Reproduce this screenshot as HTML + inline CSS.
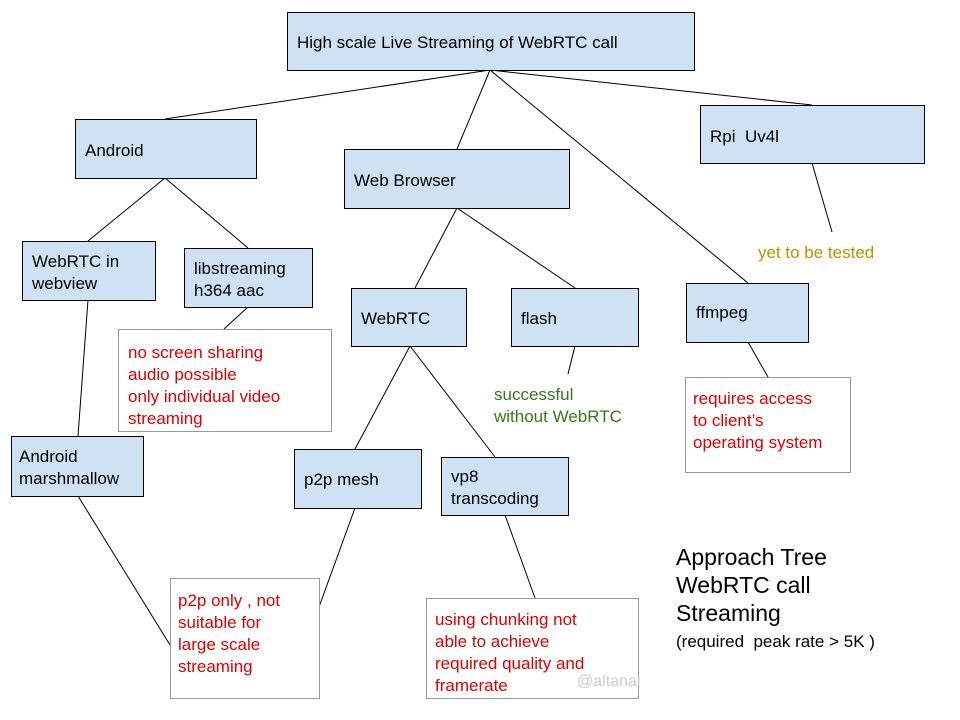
<!DOCTYPE html>
<html><head><meta charset="utf-8"><style>
html,body{margin:0;padding:0;background:#fff;}
svg{display:block;font-family:"Liberation Sans",Arial,sans-serif;}
</style></head><body>
<svg width="960" height="720" viewBox="0 0 960 720">
<g stroke="#000" stroke-width="1" fill="none">
<line x1="490" y1="70" x2="165" y2="119"/>
<line x1="490" y1="70" x2="457" y2="149"/>
<line x1="490" y1="70" x2="812" y2="105"/>
<line x1="490" y1="70" x2="748" y2="283"/>
<line x1="165" y1="178" x2="88" y2="241"/>
<line x1="165" y1="178" x2="248" y2="248"/>
<line x1="457" y1="208" x2="415" y2="288"/>
<line x1="457" y1="208" x2="575" y2="288"/>
<line x1="812" y1="163" x2="832" y2="232"/>
<line x1="248" y1="307" x2="224" y2="329"/>
<line x1="88" y1="300" x2="78" y2="436"/>
<line x1="410" y1="346" x2="355" y2="449"/>
<line x1="410" y1="346" x2="495" y2="457"/>
<line x1="575" y1="346" x2="568" y2="374"/>
<line x1="748" y1="342" x2="768" y2="377"/>
<line x1="78" y1="496" x2="170" y2="645"/>
<line x1="355" y1="508" x2="307" y2="640"/>
<line x1="505" y1="515" x2="535" y2="598"/>
</g>
<g fill="#cfe2f3" stroke="#000" stroke-width="1">
<rect x="287.5" y="12.5" width="407" height="58"/>
<rect x="75.5" y="119.5" width="181" height="59"/>
<rect x="344.5" y="149.5" width="225" height="59"/>
<rect x="700.5" y="105.5" width="224" height="58"/>
<rect x="22.5" y="241.5" width="133" height="59"/>
<rect x="184.5" y="248.5" width="128" height="59"/>
<rect x="351.5" y="288.5" width="115" height="58"/>
<rect x="511.5" y="288.5" width="127" height="58"/>
<rect x="686.5" y="283.5" width="122" height="59"/>
<rect x="11.5" y="436.5" width="132" height="60"/>
<rect x="294.5" y="449.5" width="127" height="59"/>
<rect x="441.5" y="457.5" width="127" height="58"/>
</g>
<g fill="#fff" stroke="#999" stroke-width="1">
<rect x="118.5" y="329.5" width="213" height="102"/>
<rect x="685.5" y="377.5" width="165" height="95"/>
<rect x="170.5" y="578.5" width="149" height="120"/>
<rect x="426.5" y="598.5" width="212" height="100"/>
</g>
<g font-size="17" fill="#000">
<text x="297" y="48">High scale Live Streaming of WebRTC call</text>
<text x="85" y="156">Android</text>
<text x="354" y="186">Web Browser</text>
<text x="710" y="142">Rpi&#160; Uv4l</text>
<text x="32" y="267">WebRTC in</text><text x="32" y="289">webview</text>
<text x="194" y="274">libstreaming</text><text x="194" y="296">h364 aac</text>
<text x="361" y="324">WebRTC</text>
<text x="521" y="324">flash</text>
<text x="696" y="318">ffmpeg</text>
<text x="19" y="462">Android</text><text x="19" y="484">marshmallow</text>
<text x="304" y="485">p2p mesh</text>
<text x="451" y="482">vp8</text><text x="451" y="504">transcoding</text>
</g>
<g font-size="17" fill="#e00000">
<text x="128" y="358">no screen sharing</text>
<text x="128" y="380">audio possible</text>
<text x="128" y="402">only individual video</text>
<text x="128" y="424">streaming</text>
<text x="693" y="404">requires access</text>
<text x="693" y="426">to client’s</text>
<text x="693" y="448">operating system</text>
<text x="178" y="606">p2p only , not</text>
<text x="178" y="628">suitable for</text>
<text x="178" y="650">large scale</text>
<text x="178" y="672">streaming</text>
<text x="435" y="625">using chunking not</text>
<text x="435" y="647">able to achieve</text>
<text x="435" y="669">required quality and</text>
<text x="435" y="691">framerate</text>
</g>
<text x="758" y="258" font-size="17" fill="#bf9000">yet to be tested</text>
<text x="494" y="400" font-size="17" fill="#38761d">successful</text>
<text x="494" y="422" font-size="17" fill="#38761d">without WebRTC</text>
<g font-size="23" fill="#000">
<text x="676" y="565">Approach Tree</text>
<text x="676" y="593">WebRTC call</text>
<text x="676" y="621">Streaming</text>
</g>
<text x="676" y="647" font-size="17" fill="#000">(required&#160; peak rate &gt; 5K )</text>
<text x="577" y="686" font-size="16" fill="#ccc">@altanai</text>
</svg>
</body></html>
